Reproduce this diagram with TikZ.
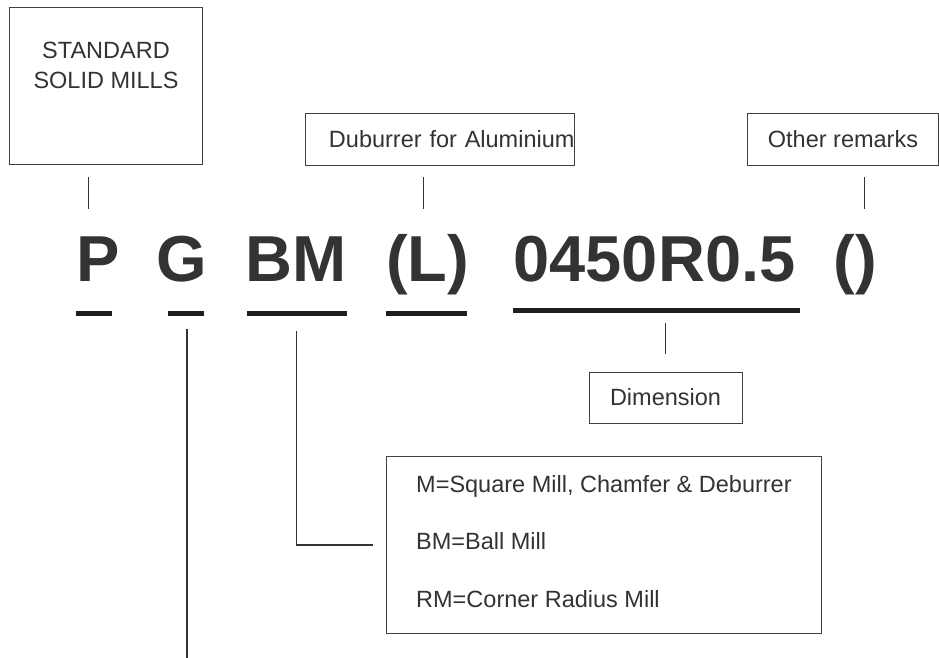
\documentclass[tikz,border=0pt]{standalone}
\usepackage{fontspec}
\setmainfont{Liberation Sans}
\usetikzlibrary{positioning}
\definecolor{inkgray}{RGB}{51,51,51}
\definecolor{rulegray}{RGB}{64,64,64}

\begin{document}
\begin{tikzpicture}[x=1pt, y=-1pt,
    box/.style  = {rectangle, draw=rulegray, line width=1pt, inner sep=0pt,
                   font=\fontsize{23.5}{30}\selectfont, text=inkgray},
    txt/.style  = {inner sep=0pt, font=\fontsize{23.5}{30}\selectfont, text=inkgray},
    code/.style = {inner sep=0pt, anchor=base,
                   font=\fontsize{65}{70}\selectfont\bfseries, text=inkgray},
    bar/.style  = {line width=5pt, draw=black!88},
    stub/.style = {line width=1.2pt, draw=black!80}
  ]
    \useasboundingbox (0,0) rectangle (939,658);

    % code letters
    \node[code] (P)    at (98.5,281)  {P};
    \node[code] (G)    at (181.5,281) {G};
    \node[code] (BM)   at (296.5,281) {BM};
    \node[code] (L)    at (427.5,281) {(L)};
    \node[code] (size) at (654.5,281) {0450R0.5};
    \node[code] (rem)  at (855.5,281) {()};

    % underlines
    \draw[bar] (76,313.5)  -- (112,313.5);
    \draw[bar] (168,313.5) -- (204,313.5);
    \draw[bar] (247,313.5) -- (347,313.5);
    \draw[bar] (386,313.5) -- (467,313.5);
    \draw[bar] (513,310.5) -- (800,310.5);

    % boxes
    \node[box, minimum width=193pt, minimum height=157pt, anchor=north west] (std) at (9,7) {};
    \node[txt, align=center, below=34.5pt of std.north] (stdtxt) {STANDARD\\SOLID MILLS};

    \node[box, minimum width=269pt, minimum height=52pt, text width=269pt, align=right,
          anchor=north west] (dub) at (305,113) {Duburrer for Aluminium};
    \node[box, minimum width=191pt, minimum height=52pt, anchor=north west] (other) at (747,113) {Other remarks};
    \node[box, minimum width=153pt, minimum height=51pt] (dim) at (665.5,397.5) {Dimension};

    \node[box, minimum width=435pt, minimum height=177pt, anchor=north west] (types) at (386,456) {};
    \node[txt, align=left, font=\fontsize{23.5}{57.5}\selectfont,
          below right=19pt and 30pt of types.north west] (typestxt)
          {M=Square Mill, Chamfer \& Deburrer\\BM=Ball Mill\\RM=Corner Radius Mill};

    % connectors
    \draw[stub] ([xshift=-17.5pt]std.south) ++(0,12) -- ++(0,32);
    \draw[stub] ([xshift=-16.5pt]dub.south) ++(0,11) -- ++(0,32);
    \draw[stub] ([xshift=21.5pt]other.south) ++(0,11) -- ++(0,32);
    \draw[stub] ([yshift=18pt]dim.north) -- ++(0,-31);
    \draw[stub] ([yshift=-50pt]BM.base) |- ([xshift=-13pt]types.west);
    \draw[stub] ([xshift=5.5pt,yshift=-48pt]G.base) -- ++(0,330);
\end{tikzpicture}
\end{document}
